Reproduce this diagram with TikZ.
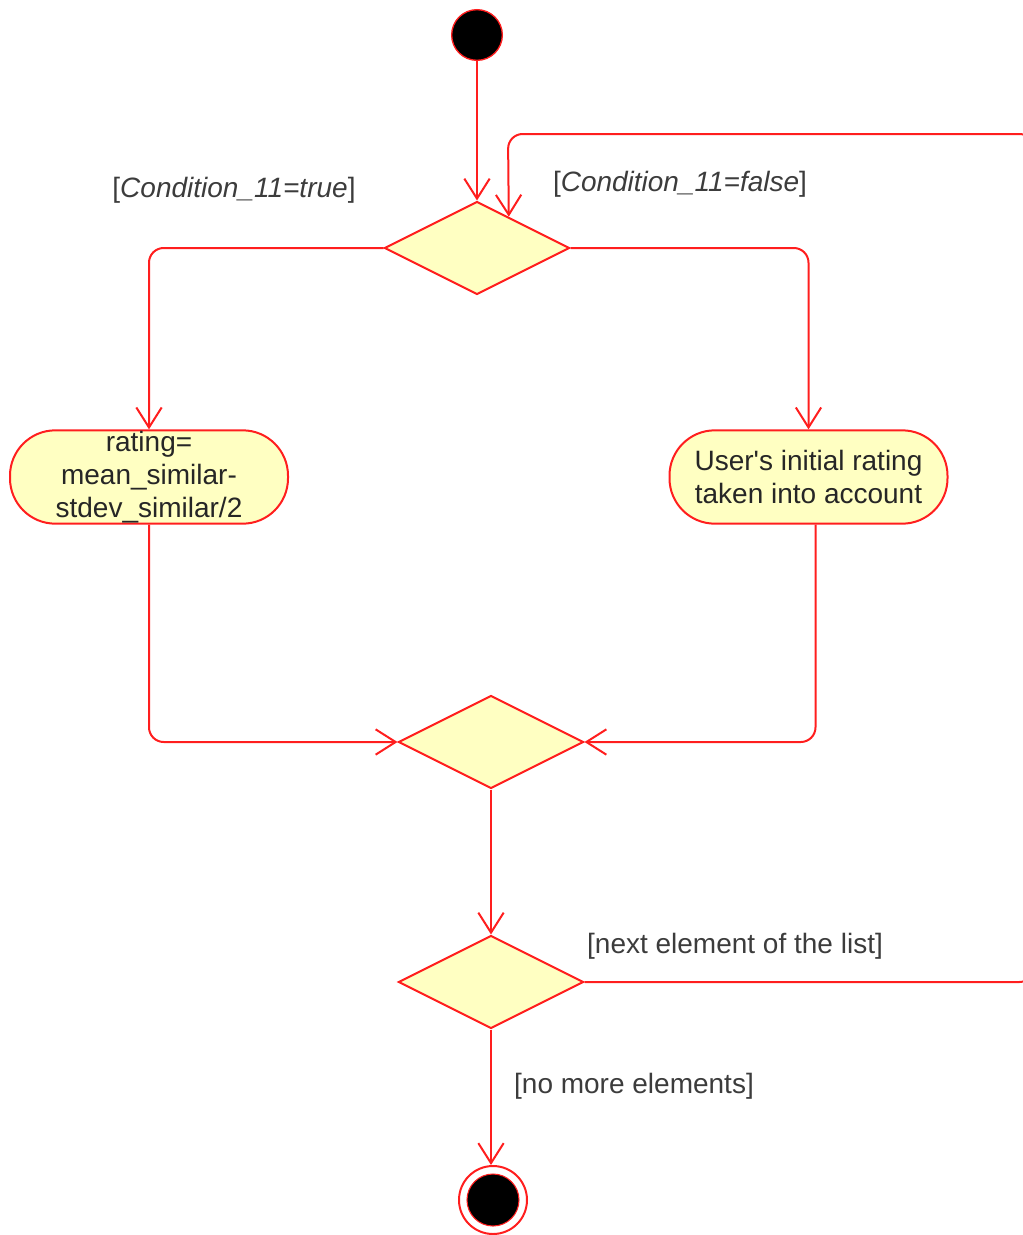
\documentclass[tikz,border=0pt]{standalone}
\usepackage{fontspec}
\setmainfont{Liberation Sans}
\usetikzlibrary{shapes.geometric, arrows.meta, calc}
\definecolor{umlred}{RGB}{255,30,30}
\definecolor{umlfill}{RGB}{255,255,194}
\definecolor{labelgray}{RGB}{60,60,60}
\begin{document}
\begin{tikzpicture}[x=0.75pt,y=-0.75pt,
  flow/.style={draw=umlred, line width=1.5pt, rounded corners=11pt,
    -{Straight Barb[length=15pt,width=19pt]}},
  decision/.style={diamond, draw=umlred, fill=umlfill, line width=1.5pt,
    minimum width=138.75pt, minimum height=69.75pt, inner sep=0pt},
  action/.style={rectangle, draw=umlred, fill=umlfill, line width=1.5pt,
    rounded corners=34pt, minimum width=208.5pt, minimum height=70pt,
    align=center, text=black!85, inner sep=0pt,
    font=\fontsize{21pt}{24.75pt}\selectfont},
  guard/.style={text=labelgray, inner sep=0pt,
    font=\fontsize{21pt}{24pt}\selectfont},
]
\useasboundingbox (0,0) rectangle (1023,1235);

% initial and final states
\node[circle, draw=umlred, fill=black, line width=1pt, minimum size=38pt, inner sep=0pt] (start) at (477,35) {};
\node[circle, draw=umlred, fill=white, line width=1.5pt, minimum size=51pt, inner sep=0pt] (end) at (493,1200) {};
\fill[black, draw=umlred, line width=0.8pt] (end.center) circle [radius=19.5pt];

% decisions and merges
\node[decision] (d1) at (477,248) {};
\node[decision] (d2) at (491,742) {};
\node[decision] (d3) at (491,982) {};

% actions
\node[action] (a1) at (149,477) {rating=\\mean\_similar-\\stdev\_similar/2};
\node[action] (a2) at (808.5,477) {User\textquotesingle s initial rating\\taken into account};

% loop-back route, running just past the right edge
\coordinate (loopR) at (1034,560);
\coordinate (loopT) at (508,134);
\coordinate (d1in) at ($(d1.north)!0.34!(d1.east)$);

% connectors
\draw[flow] (start) -- (d1.north);
\draw[flow] (d1.west) -| (a1.north);
\draw[flow] (d1.east) -| (a2.north);
\draw[flow] (a1.south) |- (d2.west);
\draw[flow] ([xshift=5.25pt]a2.south) |- (d2.east);
\draw[flow] (d2.south) -- (d3.north);
\draw[flow] (d3.south) -- (d3.south |- end.north);
\draw[flow] (d3.east) -- (loopR |- d3.east) -- (loopR |- loopT) -- (loopT) -- (d1in);

% guards
\node[guard] (g1) at (234,190) {[\textit{Condition\_11=true}]};
\node[guard] (g2) at (680,184) {[\textit{Condition\_11=false}]};
\node[guard] (g3) at (735,946) {[next element of the list]};
\node[guard] (g4) at (634,1086) {[no more elements]};
\end{tikzpicture}
\end{document}
